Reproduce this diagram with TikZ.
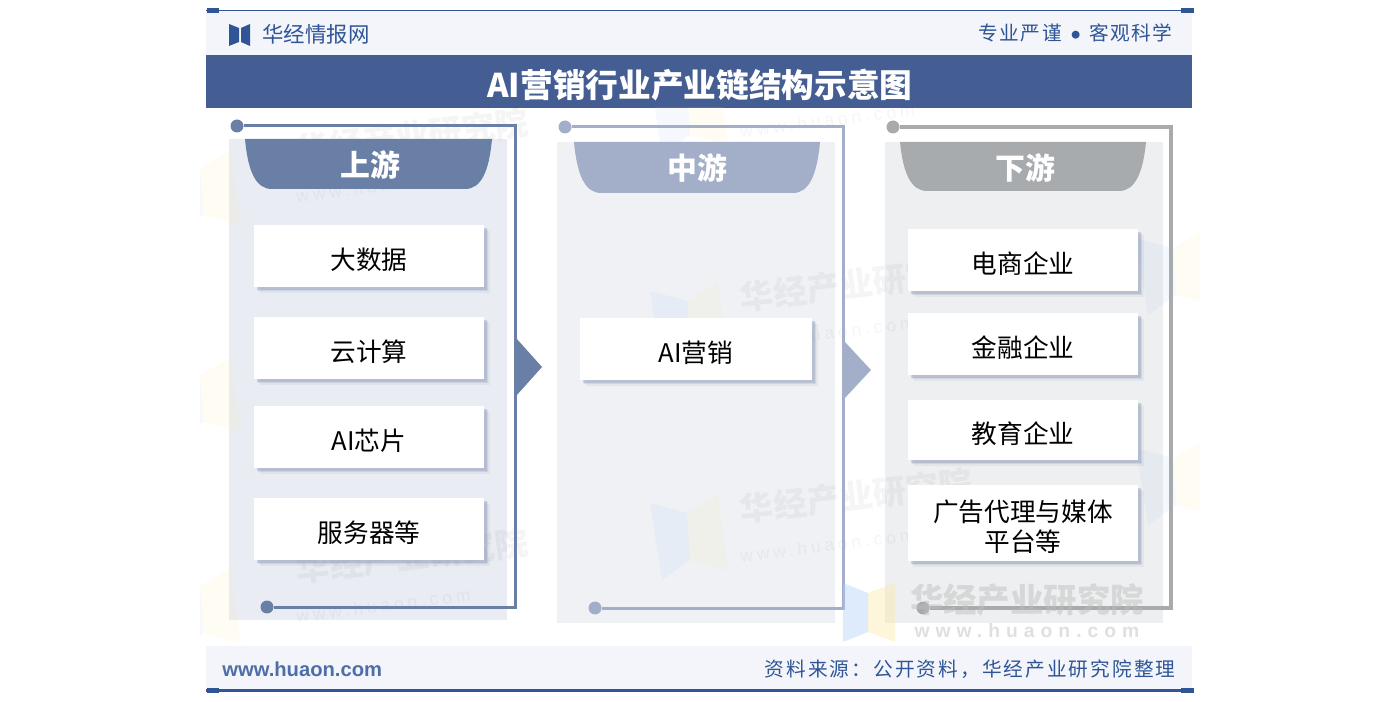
\documentclass[tikz,border=0pt]{standalone}
\usepackage{fontspec}
\usepackage{tikz}
\usetikzlibrary{shadows}
\setmainfont{Noto Sans CJK SC}
\setsansfont{Liberation Sans}
\newfontfamily\widecjk[LetterSpace=7]{Noto Sans CJK SC}
\newfontfamily\widercjk[LetterSpace=10.5]{Noto Sans CJK SC}
\newfontfamily\widelatin[LetterSpace=22]{Liberation Sans}
\newfontfamily\widerlatin[LetterSpace=31]{Liberation Sans}
\definecolor{bandblue}{HTML}{445E94}
\definecolor{linkblue}{HTML}{2F5597}
\definecolor{stripbg}{HTML}{F3F5FA}
\definecolor{upcol}{HTML}{6A7FA5}
\definecolor{midcol}{HTML}{A3AFC9}
\definecolor{downcol}{HTML}{A8ABAE}
\definecolor{uppanel}{HTML}{E9EDF3}
\definecolor{midpanel}{HTML}{EFF1F5}
\definecolor{downpanel}{HTML}{EEEFF0}
\definecolor{shadowcol}{HTML}{7F8FAE}
\definecolor{wmgray}{HTML}{BDBDBD}
\definecolor{wmblue}{HTML}{A9CCF7}
\definecolor{wmyellow}{HTML}{FBE9A6}
\tikzset{
  cardbox/.style={fill=white,minimum width=4.6cm,minimum height=1.24cm,align=center,inner sep=0pt,
    font=\fontsize{14.6}{17.6}\selectfont,text height=18pt,text depth=3pt,
    general shadow={fill=shadowcol,opacity=.10,shadow xshift=3.4pt,shadow yshift=-3.2pt},
    general shadow={fill=shadowcol,opacity=.18,shadow xshift=2.5pt,shadow yshift=-2.5pt},
    general shadow={fill=shadowcol,opacity=.30,shadow xshift=1.5pt,shadow yshift=-1.6pt}},
  headtext/.style={text=white,font=\fontsize{17}{20}\selectfont\bfseries,inner sep=0pt},
  stripline/.style={draw=linkblue,line width=0.03cm},
  striptab/.style={fill=linkblue,draw=none},
  linktext/.style={text=linkblue,inner sep=0pt,font=\fontsize{11.6}{14}\selectfont},
  updot/.style={circle,fill=upcol,minimum size=0.26cm,inner sep=0pt},
  middot/.style={circle,fill=midcol,minimum size=0.26cm,inner sep=0pt},
  downdot/.style={circle,fill=downcol,minimum size=0.26cm,inner sep=0pt},
  faintname/.style={text=black,opacity=.04,rotate=7,anchor=west,inner sep=0pt,font=\fontsize{19}{20}\selectfont\bfseries},
  faintsite/.style={text=black,opacity=.04,rotate=7,anchor=west,inner sep=0pt,font=\fontsize{10}{12}\selectfont\sffamily\widelatin},
}
\begin{document}
\begin{tikzpicture}[x=0.02cm,y=-0.02cm]
\useasboundingbox (0,0) rectangle (1400,702);
% strips
\fill[stripbg] (206,10) rectangle (1192,55);
\fill[stripbg] (206,646) rectangle (1192,690);
\fill[bandblue] (206,55) rectangle (1192,108);
\draw[stripline] (206,10.5) -- (1192,10.5);
\draw[stripline,line width=0.05cm] (206,690.5) -- (1192,690.5);
\fill[striptab] (207,8) rectangle (219,13);
\fill[striptab] (1181,8) rectangle (1194,13);
\fill[striptab] (207,688) rectangle (219,693);
\fill[striptab] (1181,688) rectangle (1194,693);
\fill[linkblue] (229,24) -- (239,28) -- (239,42) -- (229,46) -- cycle;
\fill[linkblue] (250,24) -- (241,28) -- (241,42) -- (250,46) -- cycle;
\node[linktext,font=\fontsize{12.2}{14}\selectfont,anchor=west] (brand) at (262,34) {华经情报网};
\node[linktext,font=\fontsize{11.2}{14}\selectfont\widecjk,anchor=east] (motto) at (1173,33) {专业严谨\hspace{5.5pt}{\fontsize{5}{6}\selectfont\raisebox{1.2pt}{●}}\hspace{5.5pt}客观科学};
\node[text=white,inner sep=0pt,font=\fontsize{18.6}{20}\selectfont\bfseries] (title) at (700,85) {AI营销行业产业链结构示意图};
\node[linktext,font=\fontsize{11.5}{14}\selectfont\sffamily\bfseries,anchor=west,text=linkblue!85] (site) at (222,669) {www.huaon.com};
\node[linktext,font=\fontsize{11.2}{14}\selectfont\widercjk,anchor=east] (source) at (1176,669) {资料来源：公开资料，华经产业研究院整理};
% panels
\fill[uppanel] (229,139) rectangle (507,620);
\fill[midpanel] (557,142) rectangle (835,623);
\fill[downpanel] (885,142) rectangle (1163,623);
% faint marks
\begin{scope}
\clip (200,108) rectangle (1200,646);
\foreach \wx/\wy in {253/165,253/372,253/583,740/85,740/298,740/510,1226/245,1226/455} {
  \fill[wmblue,opacity=.12] (\wx-90,\wy-7) -- (\wx-53,\wy+3) -- (\wx-50,\wy+50) -- (\wx-78,\wy+70) -- cycle;
  \fill[wmyellow,opacity=.12] (\wx-53,\wy+3) -- (\wx-22,\wy-15) -- (\wx-12,\wy+60) -- (\wx-50,\wy+50) -- cycle;
}
\foreach \wi/\wx/\wy in {a/296/150,c/296/570,e/740/298,f/740/510} {
  \node[faintname] (wm\wi) at (\wx,\wy) {华经产业研究院};
  \node[faintsite] (ws\wi) at (\wx,\wy+46) {www.huaon.com};
}
\node[faintsite] (wsd) at (740,131) {www.huaon.com};
\end{scope}
% brackets
\node[updot] (up_a) at (237,126) {};
\node[updot] (up_b) at (267,607) {};
\coordinate (up_c) at (515,607);
\draw[upcol,line width=0.06cm] (up_a) -| (up_c) -- (up_b);
\node[middot] (mid_a) at (565,127) {};
\node[middot] (mid_b) at (595,608) {};
\coordinate (mid_c) at (843,608);
\draw[midcol,line width=0.06cm] (mid_a) -| (mid_c) -- (mid_b);
\node[downdot] (down_a) at (893,127) {};
\node[downdot] (down_b) at (923,608) {};
\coordinate (down_c) at (1171,608);
\draw[downcol,line width=0.08cm] (down_a) -| (down_c) -- (down_b);
% arrows
\fill[upcol] (516,338) -- (542,367) -- (516,396) -- cycle;
\fill[midcol] (844,341) -- (871,370) -- (844,399) -- cycle;
% tabs
\fill[upcol] (245,139) .. controls (248,172) and (256,189) .. (272,189) -- (465,189) .. controls (481,189) and (489,172) .. (492,139) -- cycle;
\fill[midcol] (574,142) .. controls (577,175) and (585,193) .. (601,193) -- (793,193) .. controls (809,193) and (817,175) .. (820,142) -- cycle;
\fill[downcol] (900,142) .. controls (903,173) and (911,191) .. (927,191) -- (1119,191) .. controls (1135,191) and (1143,173) .. (1146,142) -- cycle;
\node[headtext] (up_head) at (370,165) {上游};
\node[headtext] (mid_head) at (697,168) {中游};
\node[headtext] (down_head) at (1025,168) {下游};
% cards
\node[cardbox] (bigdata) at (369,256) {大数据};
\node[cardbox] (cloud) at (369,348) {云计算};
\node[cardbox] (chip) at (369,437) {AI芯片};
\node[cardbox] (server) at (369,529) {服务器等};
\node[cardbox,minimum width=4.64cm] (aimkt) at (696,349) {AI营销};
\node[cardbox] (ecom) at (1023,260) {电商企业};
\node[cardbox] (finance) at (1023,344) {金融企业};
\node[cardbox,minimum height=1.2cm] (edu) at (1023,430) {教育企业};
\node[cardbox,minimum height=1.52cm,text height=36pt] (media) at (1023,523) {广告代理与媒体\\平台等};
% front mark
\fill[wmblue,opacity=.4] (843,583) -- (868,593) -- (868,632) -- (843,642) -- cycle;
\fill[wmyellow,opacity=.4] (868,593) -- (895,583) -- (895,642) -- (868,632) -- cycle;
\node[text=wmgray,opacity=.48,inner sep=0pt,font=\fontsize{19}{20}\selectfont\bfseries] (wm_front) at (1027,600) {华经产业研究院};
\node[text=wmgray,opacity=.48,inner sep=0pt,font=\fontsize{11}{12}\selectfont\sffamily\bfseries\widerlatin] (ws_front) at (1027,631) {www.huaon.com};
\end{tikzpicture}
\end{document}
